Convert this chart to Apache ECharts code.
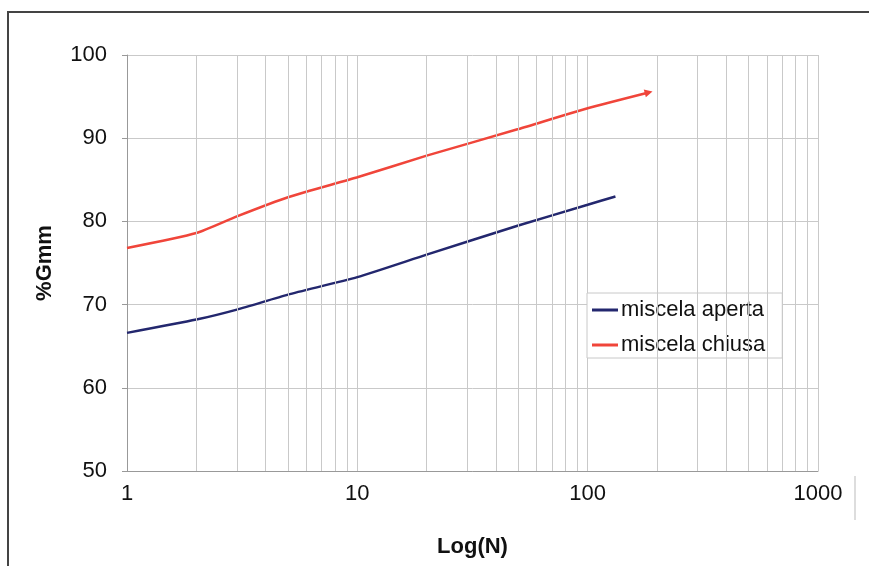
<!DOCTYPE html>
<html>
<head>
<meta charset="utf-8">
<script src="https://cdn.jsdelivr.net/npm/echarts@6/dist/echarts.min.js"></script>
<style>
  html, body { margin: 0; padding: 0; background: #fff; }
  #chart-container { width: 869px; height: 566px; }
</style>
</head>
<body>
<div id="chart-container"></div>
<script>
// N values and %Gmm
const apertaN = [1, 2, 3, 5, 10, 20, 50, 100, 132];
const apertaGmm = [66.6, 68.2, 69.4, 71.2, 73.3, 76.0, 79.5, 82.0, 83.0];
const chiusaN = [1, 2, 3, 5, 10, 20, 50, 100, 184];
const chiusaGmm = [76.8, 78.6, 80.6, 82.9, 85.3, 87.9, 91.1, 93.6, 95.5];
// minor log gridlines
const minorN = [2, 3, 4, 5, 6, 7, 8, 9, 20, 30, 40, 50, 60, 70, 80, 90, 200, 300, 400, 500, 600, 700, 800, 900];

var dom = document.getElementById("chart-container");
var myChart = echarts.init(dom, null, { renderer: "canvas" });

const font = "Liberation Sans";
const gridColor = "#c9c9c9";

const pairs = (xs, ys) => xs.map((x, i) => [x, ys[i]]);

const chiusaData = pairs(chiusaN, chiusaGmm).map((p, i, arr) =>
  i === arr.length - 1
    ? { value: p, symbol: "triangle", symbolSize: 8, symbolRotate: -75 }
    : { value: p, symbol: "none" }
);

var option = {
  backgroundColor: "#fff",
  animation: false,
  textStyle: { fontFamily: font },
  graphic: [
    {
      type: "rect",
      shape: { x: 8, y: 12, width: 900, height: 600 },
      style: { fill: "none", stroke: "#444", lineWidth: 2 },
      silent: true
    },
    {
      type: "line",
      shape: { x1: 855, y1: 476, x2: 855, y2: 520 },
      style: { stroke: "#bbb", lineWidth: 1 },
      silent: true
    }
  ],
  grid: { left: 127, right: 51, top: 55, bottom: 95 },
  legend: {
    orient: "vertical",
    left: 587,
    top: 293,
    padding: [6, 17, 2, 5],
    itemGap: 13,
    itemWidth: 26,
    itemHeight: 3,
    backgroundColor: "#fff",
    borderColor: "#c8c8c8",
    borderWidth: 1,
    icon: "rect",
    textStyle: { fontFamily: font, fontSize: 22, color: "#111", padding: [0, 0, 0, -2] },
    data: ["miscela aperta", "miscela chiusa"]
  },
  xAxis: {
    type: "log",
    logBase: 10,
    min: 1,
    max: 1000,
    name: "Log(N)",
    nameLocation: "middle",
    nameGap: 65,
    nameTextStyle: { fontFamily: font, fontSize: 22, fontWeight: "bold", color: "#111" },
    axisLine: { show: true, lineStyle: { color: "#999", width: 1 } },
    axisTick: { show: false },
    axisLabel: { fontFamily: font, fontSize: 22, color: "#111", margin: 12, formatter: v => String(v) },
    splitLine: { show: true, lineStyle: { color: gridColor, width: 1 } }
  },
  yAxis: {
    type: "value",
    min: 50,
    max: 100,
    interval: 10,
    name: "%Gmm",
    nameLocation: "middle",
    nameGap: 71,
    nameRotate: 90,
    nameTextStyle: { fontFamily: font, fontSize: 22, fontWeight: "bold", color: "#111" },
    axisLine: { show: true, lineStyle: { color: "#999", width: 1 } },
    axisTick: { show: true, length: 5, lineStyle: { color: "#999" } },
    axisLabel: { fontFamily: font, fontSize: 22, color: "#111", margin: 20 },
    splitLine: { show: true, lineStyle: { color: gridColor, width: 1 } }
  },
  series: [
    {
      name: "minor",
      type: "line",
      data: [],
      silent: true,
      markLine: {
        silent: true,
        symbol: "none",
        label: { show: false },
        lineStyle: { color: gridColor, width: 1, type: "solid" },
        data: minorN.map(v => ({ xAxis: v }))
      }
    },
    {
      name: "miscela aperta",
      type: "line",
      smooth: 0.2,
      symbol: "none",
      color: "#23276e",
      lineStyle: { color: "#23276e", width: 2.5 },
      data: pairs(apertaN, apertaGmm)
    },
    {
      name: "miscela chiusa",
      type: "line",
      smooth: 0.2,
      color: "#f0453a",
      itemStyle: { color: "#f0453a" },
      lineStyle: { color: "#f0453a", width: 2.5 },
      data: chiusaData
    }
  ]
};

myChart.setOption(option);
window.addEventListener("resize", myChart.resize);
</script>
</body>
</html>
